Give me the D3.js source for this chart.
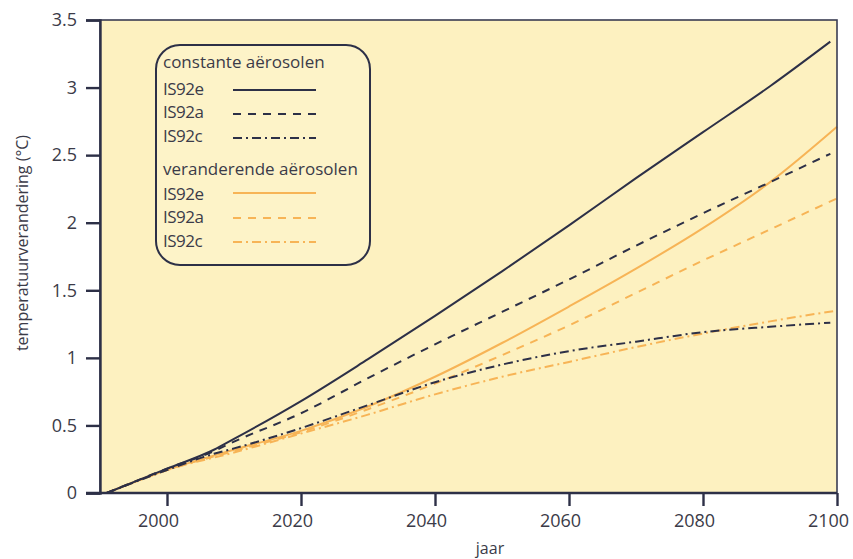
<!DOCTYPE html>
<html>
<head>
<meta charset="utf-8">
<script src="https://cdn.jsdelivr.net/npm/d3@7/dist/d3.min.js"></script>
<style>
  html, body { margin: 0; padding: 0; background: #ffffff; }
  svg { display: block; }
  text { font-family: "Open Sans", "Noto Sans", sans-serif; fill: #3b3b48; }
</style>
</head>
<body>
<svg id="chart" width="853" height="559"></svg>
<script>
// Projected temperature change (°C) per IS92 scenario
const yearsConst = [1991, 2000, 2007, 2010, 2020, 2030, 2040, 2050, 2060, 2070, 2080, 2090, 2099];
const constE = [0, 0.18, 0.32, 0.40, 0.68, 0.99, 1.31, 1.64, 1.98, 2.33, 2.67, 3.01, 3.34];
const constA = [0, 0.18, 0.31, 0.38, 0.59, 0.85, 1.10, 1.34, 1.58, 1.83, 2.07, 2.30, 2.51];
const constC = [0, 0.17, 0.29, 0.33, 0.48, 0.65, 0.82, 0.95, 1.05, 1.12, 1.19, 1.23, 1.26];

const yearsVar = [1991, 2000, 2010, 2020, 2030, 2040, 2050, 2060, 2070, 2080, 2090, 2100];
const varE = [0, 0.17, 0.32, 0.46, 0.64, 0.86, 1.11, 1.38, 1.66, 1.96, 2.30, 2.71];
const varA = [0, 0.17, 0.31, 0.45, 0.62, 0.81, 1.02, 1.24, 1.48, 1.72, 1.95, 2.18];
const varC = [0, 0.17, 0.30, 0.44, 0.58, 0.73, 0.86, 0.97, 1.08, 1.18, 1.27, 1.35];

const xTicks = [2000, 2020, 2040, 2060, 2080, 2100];
const yTicks = [0, 0.5, 1, 1.5, 2, 2.5, 3, 3.5];
const yTickLabels = ["0", "0.5", "1", "1.5", "2", "2.5", "3", "3.5"];

const groupTitles = ["constante aërosolen", "veranderende aërosolen"];
const scenarioNames = ["IS92e", "IS92a", "IS92c"];

const xLabel = "jaar";
const yLabel = "temperatuurverandering (°C)";

const DARK = "#2d3047";
const ORANGE = "#f7b456";
const dashStyles = [null, "8,7", "9,4,2,4"];

const series = [
  { years: yearsConst, values: constE, color: DARK, dash: dashStyles[0] },
  { years: yearsConst, values: constA, color: DARK, dash: dashStyles[1] },
  { years: yearsConst, values: constC, color: DARK, dash: dashStyles[2] },
  { years: yearsVar, values: varE, color: ORANGE, dash: dashStyles[0] },
  { years: yearsVar, values: varA, color: ORANGE, dash: dashStyles[1] },
  { years: yearsVar, values: varC, color: ORANGE, dash: dashStyles[2] }
];

const svg = d3.select("#chart");
const L = 100, R = 837, T = 20, B = 493;

const x = d3.scaleLinear().domain([1990, 2100]).range([L, R]);
const y = d3.scaleLinear().domain([0, 3.5]).range([B, T]);

// plot area
svg.append("rect")
  .attr("x", L).attr("y", T).attr("width", R - L).attr("height", B - T)
  .attr("fill", "#fdf1c0");

// lines
const line = d3.line().x(d => x(d[0])).y(d => y(d[1])).curve(d3.curveMonotoneX);
const plot = svg.append("g");
// orange first, dark on top
[3, 4, 5, 0, 1, 2].forEach(i => {
  const s = series[i];
  plot.append("path")
    .datum(s.years.map((yr, j) => [yr, s.values[j]]))
    .attr("d", line)
    .attr("fill", "none")
    .attr("stroke", s.color)
    .attr("stroke-width", 2)
    .attr("stroke-dasharray", s.dash);
});

// frame
svg.append("rect")
  .attr("x", L).attr("y", T).attr("width", R - L).attr("height", B - T)
  .attr("fill", "none").attr("stroke", "#3a3c52").attr("stroke-width", 1.6);

// axes
const yAxis = d3.axisLeft(y).tickValues(yTicks)
  .tickFormat((d, i) => yTickLabels[i]).tickSize(14).tickPadding(9);
const gy = svg.append("g").attr("transform", `translate(${L},0)`).call(yAxis);
gy.select(".domain").attr("stroke", DARK).attr("stroke-width", 2.4);
gy.selectAll(".tick line").attr("stroke", DARK).attr("stroke-width", 2.4);
gy.selectAll(".tick text").attr("font-size", 18).style("fill", "#3b3b48")
  .attr("font-family", "'Open Sans', sans-serif");

const xAxis = d3.axisBottom(x).tickValues(xTicks).tickFormat(d3.format("d"))
  .tickSize(13).tickPadding(8);
const gx = svg.append("g").attr("transform", `translate(0,${B})`).call(xAxis);
gx.select(".domain").attr("stroke", DARK).attr("stroke-width", 2.4)
  .attr("d", `M${L - 14},0H${R}`);
gx.selectAll(".tick line").attr("stroke", DARK).attr("stroke-width", 2.4);
gx.selectAll(".tick text").attr("font-size", 18).attr("dx", -9).style("fill", "#3b3b48")
  .attr("font-family", "'Open Sans', sans-serif");

// axis titles
svg.append("text").attr("x", 490).attr("y", 554)
  .attr("text-anchor", "middle").attr("font-size", 16).text(xLabel);
svg.append("text")
  .attr("transform", "translate(28,243) rotate(-90)")
  .attr("text-anchor", "middle").attr("font-size", 16).text(yLabel);

// legend
const lg = svg.append("g");
lg.append("rect")
  .attr("x", 156).attr("y", 45).attr("width", 214).attr("height", 220)
  .attr("rx", 24).attr("ry", 24)
  .attr("fill", "#fdf3c8").attr("stroke", DARK).attr("stroke-width", 2);

const groupTop = [68, 175];
const rowBase = [[95, 118, 142], [200, 223, 247]];
const sampleY = [[90, 114, 138], [193, 218, 242]];
groupTitles.forEach((title, g) => {
  lg.append("text").attr("x", 163).attr("y", groupTop[g])
    .attr("font-size", 17).text(title);
  scenarioNames.forEach((name, k) => {
    lg.append("text").attr("x", 163).attr("y", rowBase[g][k])
      .attr("font-size", 17).attr("letter-spacing", -0.5).text(name);
    const s = series[g * 3 + k];
    lg.append("line")
      .attr("x1", 233).attr("x2", 316)
      .attr("y1", sampleY[g][k]).attr("y2", sampleY[g][k])
      .attr("stroke", s.color).attr("stroke-width", 2)
      .attr("stroke-dasharray", s.dash);
  });
});
</script>
</body>
</html>
